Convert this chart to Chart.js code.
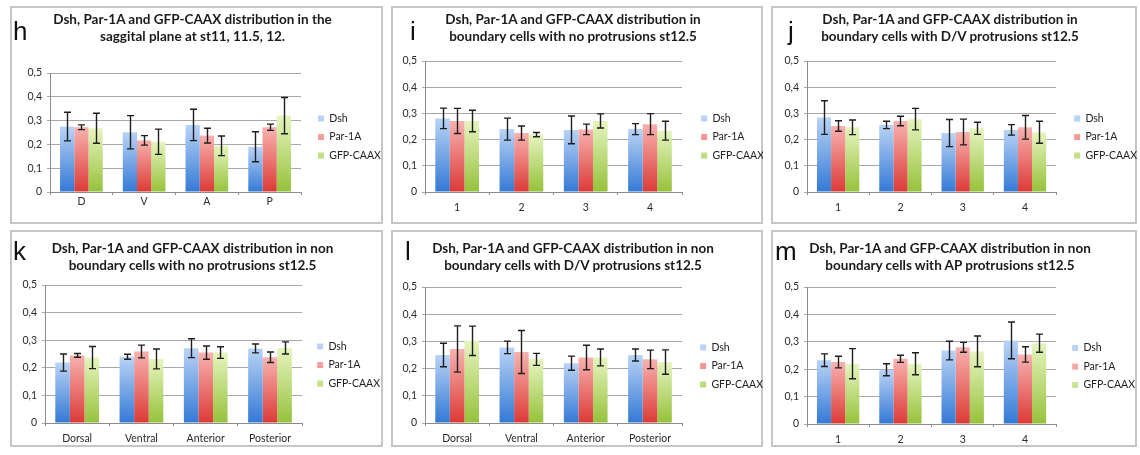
<!DOCTYPE html>
<html>
<head>
<meta charset="utf-8">
<script src="https://cdn.jsdelivr.net/npm/chart.js@4.4.0/dist/chart.umd.min.js"></script>
<style>
body { margin: 0; background: #fff; width: 1140px; height: 455px; position: relative; overflow: hidden; }
.panel { position: absolute; border: 2px solid #c6c6c6; box-sizing: border-box; }
.plot { position: absolute; }
.plot canvas { display: block; }
.letter { position: absolute; font-family: 'Liberation Sans', Arial, sans-serif; font-size: 26px; line-height: 26px; color: #111; }
.title { position: absolute; text-align: center; font-family: Lato, sans-serif; font-weight: bold; font-size: 13.5px; line-height: 16.5px; color: #1a1a1a; }
</style>
</head>
<body>
<script>
// category labels
var dvapLabels = ['D', 'V', 'A', 'P'];
var numLabels = ['1', '2', '3', '4'];
var sideLabels = ['Dorsal', 'Ventral', 'Anterior', 'Posterior'];
var seriesNames = ['Dsh', 'Par-1A', 'GFP-CAAX'];
var yTicks = [0, 0.1, 0.2, 0.3, 0.4, 0.5];

// h
var hDsh = [0.275, 0.251, 0.282, 0.19];
var hDshErr = [0.06, 0.07, 0.066, 0.063];
var hPar = [0.272, 0.217, 0.237, 0.272];
var hParErr = [0.01, 0.02, 0.031, 0.013];
var hGfp = [0.268, 0.211, 0.194, 0.321];
var hGfpErr = [0.063, 0.053, 0.041, 0.076];

// i
var iDsh = [0.281, 0.24, 0.237, 0.24];
var iDshErr = [0.039, 0.042, 0.053, 0.021];
var iPar = [0.271, 0.225, 0.239, 0.259];
var iParErr = [0.048, 0.027, 0.02, 0.04];
var iGfp = [0.271, 0.219, 0.271, 0.234];
var iGfpErr = [0.041, 0.008, 0.027, 0.036];

// j
var jDsh = [0.284, 0.256, 0.225, 0.237];
var jDshErr = [0.064, 0.014, 0.052, 0.02];
var jPar = [0.252, 0.271, 0.229, 0.247];
var jParErr = [0.02, 0.018, 0.049, 0.045];
var jGfp = [0.247, 0.278, 0.243, 0.228];
var jGfpErr = [0.028, 0.041, 0.023, 0.042];

// k
var kDsh = [0.219, 0.24, 0.271, 0.27];
var kDshErr = [0.031, 0.009, 0.034, 0.016];
var kPar = [0.245, 0.259, 0.255, 0.238];
var kParErr = [0.007, 0.023, 0.024, 0.019];
var kGfp = [0.237, 0.232, 0.255, 0.272];
var kGfpErr = [0.04, 0.036, 0.021, 0.022];

// l
var lDsh = [0.25, 0.278, 0.22, 0.25];
var lDshErr = [0.043, 0.023, 0.026, 0.022];
var lPar = [0.272, 0.261, 0.241, 0.234];
var lParErr = [0.085, 0.079, 0.045, 0.034];
var lGfp = [0.302, 0.234, 0.241, 0.224];
var lGfpErr = [0.054, 0.022, 0.031, 0.045];

// m
var mDsh = [0.233, 0.198, 0.268, 0.305];
var mDshErr = [0.023, 0.022, 0.034, 0.067];
var mPar = [0.226, 0.238, 0.28, 0.254];
var mParErr = [0.021, 0.013, 0.018, 0.028];
var mGfp = [0.22, 0.22, 0.265, 0.295];
var mGfpErr = [0.055, 0.04, 0.056, 0.033];

// layout per panel: box, plot area offsets, legend tweaks
var panels = [
    { letter: 'h', labels: dvapLabels, vals: [hDsh, hPar, hGfp], errs: [hDshErr, hParErr, hGfpErr],
      title: ['Dsh, Par-1A and GFP-CAAX distribution in the', 'saggital plane at st11, 11.5, 12.'],
      box: [10, 6, 373, 218], left: 40, right: 291, top: 67, bottom: 32, gap: 9, shift: 9, xPad: 0, letterPos: [3, 12], titleTop: 5 },
    { letter: 'i', labels: numLabels, vals: [iDsh, iPar, iGfp], errs: [iDshErr, iParErr, iGfpErr],
      title: ['Dsh, Par-1A and GFP-CAAX distribution in', 'boundary cells with no protrusions st12.5'],
      box: [391, 6, 372, 218], left: 34, right: 292, top: 55, bottom: 32, gap: 11, shift: 21, xPad: 6, letterPos: [19, 12], titleTop: 5 },
    { letter: 'j', labels: numLabels, vals: [jDsh, jPar, jGfp], errs: [jDshErr, jParErr, jGfpErr],
      title: ['Dsh, Par-1A and GFP-CAAX distribution in', 'boundary cells with D/V protrusions st12.5'],
      box: [771, 6, 366, 218], left: 36, right: 289, top: 55, bottom: 32, gap: 10, shift: 21, xPad: 6, letterPos: [17, 12], titleTop: 5 },
    { letter: 'k', labels: sideLabels, vals: [kDsh, kPar, kGfp], errs: [kDshErr, kParErr, kGfpErr],
      title: ['Dsh, Par-1A and GFP-CAAX distribution in non', 'boundary cells with no protrusions st12.5'],
      box: [10, 230, 373, 217], left: 35, right: 293, top: 55, bottom: 24, gap: 7, shift: 22, xPad: 6, letterPos: [3, 8], titleTop: 10 },
    { letter: 'l', labels: sideLabels, vals: [lDsh, lPar, lGfp], errs: [lDshErr, lParErr, lGfpErr],
      title: ['Dsh, Par-1A and GFP-CAAX distribution in non', 'boundary cells with D/V protrusions st12.5'],
      box: [391, 230, 372, 217], left: 34, right: 292, top: 57, bottom: 24, gap: 10, shift: 22, xPad: 6, letterPos: [14, 8], titleTop: 10 },
    { letter: 'm', labels: numLabels, vals: [mDsh, mPar, mGfp], errs: [mDshErr, mParErr, mGfpErr],
      title: ['Dsh, Par-1A and GFP-CAAX distribution in non', 'boundary cells with AP protrusions st12.5'],
      box: [771, 230, 366, 217], left: 36, right: 291, top: 57, bottom: 23, gap: 8, shift: 22, xPad: 6, letterPos: [4, 8], titleTop: 10 }
];

var barColors = [
    { top: '#b9d3f5', bottom: '#3379d6', flat: '#4f86cf' },
    { top: '#f8b2b0', bottom: '#dc3a35', flat: '#e0524d' },
    { top: '#e6f4bf', bottom: '#95c23a', flat: '#a5c957' }
];

function barFill(c) {
    return function (ctx) {
        var chart = ctx.chart;
        if (ctx.type !== 'data' || !chart.chartArea) return c.flat;
        var y = chart.scales.y;
        var g = chart.ctx.createLinearGradient(0, y.getPixelForValue(ctx.raw), 0, y.getPixelForValue(0));
        g.addColorStop(0, c.top);
        g.addColorStop(1, c.bottom);
        return g;
    };
}

var errorBars = {
    id: 'errorBars',
    afterDatasetsDraw: function (chart) {
        var c = chart.ctx;
        var y = chart.scales.y;
        c.save();
        c.strokeStyle = '#1e1e1e';
        c.lineWidth = 1.4;
        chart.data.datasets.forEach(function (ds, di) {
            var meta = chart.getDatasetMeta(di);
            meta.data.forEach(function (bar, j) {
                var v = ds.data[j], e = ds.errors[j];
                var x = Math.round(bar.x) + 0.5;
                var y1 = y.getPixelForValue(v + e), y2 = y.getPixelForValue(v - e);
                c.beginPath();
                c.moveTo(x, y1); c.lineTo(x, y2);
                c.moveTo(x - 3.5, y1); c.lineTo(x + 3.5, y1);
                c.moveTo(x - 3.5, y2); c.lineTo(x + 3.5, y2);
                c.stroke();
            });
        });
        c.restore();
    }
};

// push the legend a few px away from the plot (Excel leaves a gap there)
var legendGap = {
    id: 'legendGap',
    afterLayout: function (chart, args, opts) {
        if (!chart.legend) return;
        chart.legend.left += opts.gap;
        chart.legend.right += opts.gap;
    }
};

var tickFont = { family: 'Lato, sans-serif', size: 10.5 };
var legendFont = { family: 'Lato, sans-serif', size: 10.5 };

panels.forEach(function (p) {
    var b = p.box;
    var frame = document.createElement('div');
    frame.className = 'panel';
    frame.style.left = b[0] + 'px'; frame.style.top = b[1] + 'px';
    frame.style.width = b[2] + 'px'; frame.style.height = b[3] + 'px';
    document.body.appendChild(frame);

    var holder = document.createElement('div');
    holder.className = 'plot';
    holder.style.left = b[0] + 'px'; holder.style.top = b[1] + 'px';
    var canvas = document.createElement('canvas');
    canvas.width = b[2]; canvas.height = b[3];
    holder.appendChild(canvas);
    document.body.appendChild(holder);

    var letter = document.createElement('div');
    letter.className = 'letter';
    letter.textContent = p.letter;
    letter.style.left = (b[0] + p.letterPos[0]) + 'px';
    letter.style.top = (b[1] + p.letterPos[1]) + 'px';
    document.body.appendChild(letter);

    var title = document.createElement('div');
    title.className = 'title';
    title.innerHTML = p.title[0] + '<br>' + p.title[1];
    title.style.left = (b[0] - 4) + 'px';
    title.style.width = b[2] + 'px';
    title.style.top = (b[1] + p.titleTop) + 'px';
    document.body.appendChild(title);

    var datasets = p.vals.map(function (v, i) {
        return {
            label: seriesNames[i],
            data: v,
            errors: p.errs[i],
            backgroundColor: barFill(barColors[i]),
            borderWidth: 0,
            categoryPercentage: 0.68,
            barPercentage: 1.0
        };
    });

    var chart = new Chart(canvas, {
        type: 'bar',
        data: { labels: p.labels, datasets: datasets },
        plugins: [errorBars, legendGap],
        options: {
            responsive: false,
            animation: false,
            layout: { padding: { top: p.top, right: 0, bottom: 0, left: 0 } },
            plugins: {
                tooltip: { enabled: false },
                legendGap: { gap: p.gap },
                legend: {
                    position: 'right',
                    fullSize: false,
                    title: { display: true, text: '', font: { size: 1 }, padding: { top: 0, bottom: p.shift - 1 } },
                    labels: { boxWidth: 6, boxHeight: 6, padding: 8, color: '#222', font: legendFont }
                }
            },
            scales: {
                x: {
                    grid: { display: true, drawOnChartArea: false, tickLength: 3, color: '#8c8c8c' },
                    border: { display: true, color: '#8c8c8c' },
                    ticks: { color: '#2a2a2a', font: tickFont, padding: p.xPad },
                    afterFit: function (s) { s.height = p.bottom; }
                },
                y: {
                    min: 0, max: 0.5,
                    grid: { color: '#a8a8a8', tickLength: 3 },
                    border: { display: true, color: '#8c8c8c' },
                    afterBuildTicks: function (s) { s.ticks = yTicks.map(function (t) { return { value: t }; }); },
                    ticks: {
                        color: '#2a2a2a', font: tickFont, padding: 5,
                        callback: function (v) { return v === 0 ? '0' : v.toFixed(1).replace('.', ','); }
                    },
                    afterFit: function (s) { s.width = p.left; }
                }
            }
        }
    });
    // second pass: pad the right side so the plot ends where it should
    var extra = chart.chartArea.right - p.right;
    if (extra > 0) {
        chart.options.layout.padding.right = extra;
        chart.update();
    }
});
</script>
</body>
</html>
